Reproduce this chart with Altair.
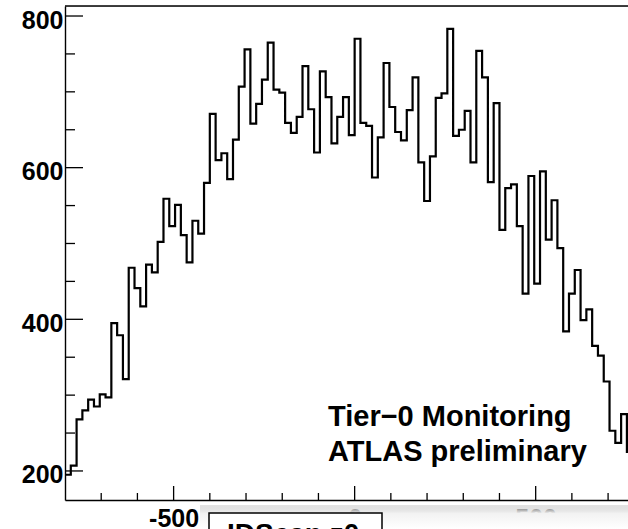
import altair as alt
import pandas as pd

# ---- data (IDScan z0, 16-unit bins from -800) ----
counts = [195, 207, 268, 280, 294, 285, 301, 297, 395, 379,
          321, 468, 441, 417, 472, 462, 502, 559, 523, 551,
          511, 475, 530, 513, 580, 671, 610, 619, 585, 637,
          707, 756, 658, 684, 716, 765, 703, 699, 659, 646,
          667, 734, 677, 620, 727, 693, 632, 667, 693, 643,
          770, 659, 655, 587, 640, 738, 680, 647, 636, 676,
          719, 607, 556, 615, 692, 698, 783, 642, 650, 675,
          607, 754, 719, 581, 685, 518, 573, 578, 523, 434,
          589, 447, 595, 505, 557, 494, 384, 434, 465, 399,
          413, 365, 352, 318, 253, 237, 275, 225]
bin_lo = -800
bin_w = 16

x_major = [-500, 0, 500]
x_minor = [-700, -600, -400, -300, -200, -100, 100, 200, 300, 400, 600, 700]
y_major = [200, 400, 600, 800]
y_minor = [250, 300, 350, 450, 500, 550, 650, 700, 750]

label1 = "Tier\u22120 Monitoring"
label2 = "ATLAS preliminary"
title_box = "IDScan z0"

edges = [bin_lo + i * bin_w for i in range(len(counts) + 1)]
hist = pd.DataFrame({"x": edges, "y": counts + [counts[-1]]})

W, H = 563, 494
FONT = "Liberation Sans"

xscale = alt.Scale(domain=[-800, 755], nice=False, zero=False)
yscale = alt.Scale(domain=[161.7, 813.2], nice=False, zero=False)

xaxis = alt.Axis(values=x_major, ticks=False, grid=False, domainColor="black",
                 domainWidth=1.4, labelFont=FONT, labelFontSize=25,
                 labelFontWeight="bold", labelColor="black", labelPadding=6,
                 labelBaseline="top", labelFlush=False, labelOverlap=False,
                 title=None,
                 labelExpr="datum.value < 0 ? '-' + (-datum.value) : '' + datum.value")
yaxis = alt.Axis(values=y_major, ticks=False, grid=False, domainColor="black",
                 domainWidth=1.4, labelFont=FONT, labelFontSize=25,
                 labelFontWeight="bold", labelColor="black", labelPadding=2,
                 labelOffset=4, labelFlush=False, labelOverlap=False, title=None,
                 format="d")

line = alt.Chart(hist).mark_line(interpolate="step-after", color="black",
                                 strokeWidth=2.2, clip=True).encode(
    x=alt.X("x:Q", scale=xscale, axis=xaxis),
    y=alt.Y("y:Q", scale=yscale, axis=yaxis),
)

def yticks(vals, length):
    return alt.Chart(pd.DataFrame({"v": vals})).mark_rule(
        color="black", strokeWidth=1.3).encode(
        y=alt.Y("v:Q", scale=yscale, axis=yaxis),
        x=alt.value(0), x2=alt.value(length))

def xticks(vals, length):
    return alt.Chart(pd.DataFrame({"v": vals})).mark_rule(
        color="black", strokeWidth=1.3).encode(
        x=alt.X("v:Q", scale=xscale, axis=xaxis),
        y=alt.value(H), y2=alt.value(H - length))

one = pd.DataFrame({"a": [0]})
top = alt.Chart(one).mark_rule(color="black", strokeWidth=1.5).encode(
    x=alt.value(0), x2=alt.value(W), y=alt.value(0))

txt1 = alt.Chart(one).mark_text(align="left", baseline="alphabetic", font=FONT,
                                fontWeight="bold", fontSize=29, color="black").encode(
    x=alt.value(263), y=alt.value(419.7), text=alt.value(label1))
txt2 = alt.Chart(one).mark_text(align="left", baseline="alphabetic", font=FONT,
                                fontWeight="bold", fontSize=29, color="black").encode(
    x=alt.value(263), y=alt.value(455), text=alt.value(label2))

grad = {"gradient": "linear", "x1": 0, "y1": 0, "x2": 0, "y2": 1,
        "stops": [{"offset": 0, "color": "rgba(190,190,190,0.45)"},
                  {"offset": 0.35, "color": "#f2f2f2"},
                  {"offset": 1, "color": "#ffffff"}]}
band = alt.Chart(one).mark_rect(fill=grad).encode(
    x=alt.value(135), x2=alt.value(W), y=alt.value(499), y2=alt.value(523))
box = alt.Chart(one).mark_rect(fill="white", stroke="black", strokeWidth=1.5).encode(
    x=alt.value(144), x2=alt.value(317), y=alt.value(507), y2=alt.value(545))
boxtxt = alt.Chart(one).mark_text(align="left", baseline="alphabetic", font=FONT,
                                  fontWeight="bold", fontSize=28, color="black").encode(
    x=alt.value(162), y=alt.value(537), text=alt.value(title_box))

chart = alt.layer(
    line, yticks(y_major, 18), yticks(y_minor, 10), xticks(x_major, 14),
    xticks(x_minor, 7), top, txt1, txt2, band, box, boxtxt
).properties(
    width=W, height=H,
    autosize=alt.AutoSizeParams(type="none"),
    padding={"left": 65, "top": 6, "right": 0, "bottom": 29},
).configure_view(stroke=None).configure(background="white")

chart.save("out.html", embed_options={"renderer": "svg", "actions": False})
